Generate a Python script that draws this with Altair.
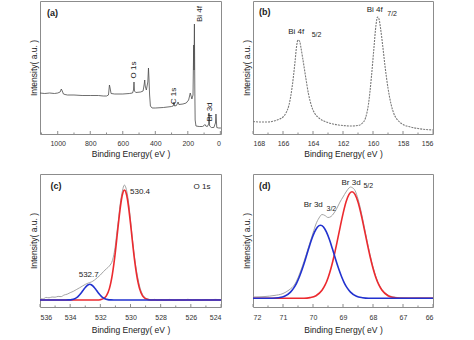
import altair as alt
import pandas as pd

# ---------------- Panel (a): survey spectrum ----------------
a_energy = [1109, 1080, 1050, 1020, 1000, 985, 978, 972, 965, 955, 940, 900, 850, 800, 750, 720, 700,
            688, 682, 678, 672, 650, 600, 560, 540, 534, 531, 528, 520, 490, 475, 468, 465, 462, 455,
            446, 442, 439, 435, 430, 420, 400, 350, 300, 290, 285, 281, 270, 260, 255, 230, 210, 195,
            185, 180, 175, 168, 164, 162, 159.5, 157, 155, 150, 130, 110, 100, 95, 90, 80, 72, 70, 68,
            66, 55, 40, 30, 27, 25, 22, 10, 0, -4]
a_intensity = [41, 40.5, 41, 40.5, 41, 42, 45, 43, 40, 39.5, 39, 39, 38.5, 38.5, 38.5, 38, 38,
               39, 49, 46, 40.5, 40, 40, 40.5, 41, 44, 52, 43, 41.5, 42, 43, 50, 54, 48, 44,
               52, 66, 56, 39, 28, 26, 26, 26.5, 27.5, 28, 32, 28, 28.5, 32, 29.5, 30, 31, 34,
               41, 38, 35, 39, 89, 64, 110, 44, 14, 8, 7.5, 7.5, 8.5, 9.5, 8, 7.5, 10, 21, 16,
               8, 6.5, 6.5, 11, 20, 15, 6.5, 6, 6, 6]
a_labels = ["O 1s", "C 1s", "Bi 4f", "Br 3d"]
a_label_energy = [532.6, 286.6, 124.8, 63.3]
a_label_intensity = [64, 38, 120, 22]

# ---------------- Panel (b): Bi 4f ----------------
b_energy = [168.0, 167.5, 167.0, 166.6, 166.3, 166.0, 165.8, 165.6, 165.4, 165.2, 165.1, 165.0, 164.9,
            164.8, 164.7, 164.5, 164.3, 164.1, 163.9, 163.6, 163.2, 162.8, 162.3, 162.0, 161.5, 161.0,
            160.7, 160.5, 160.3, 160.1, 159.95, 159.8, 159.7, 159.6, 159.5, 159.35, 159.2, 159.0, 158.8,
            158.6, 158.3, 158.0, 157.5, 157.0, 156.5, 156.0]
b_intensity = [12.5, 12, 12, 13, 14.5, 17, 21, 29, 46, 72, 87, 94, 93,
               86, 77, 58, 40, 28, 21, 16, 12.5, 10.5, 9, 8.5, 8, 8.5,
               11, 16, 30, 58, 84, 109, 117, 115, 106, 88, 68, 46, 30,
               20, 13, 9.5, 7, 5.5, 4.5, 4]

# ---------------- Panel (c): O 1s ----------------
c_data_energy = [536.0, 535.8, 535.6, 535.4, 535.2, 535.0, 534.8, 534.6, 534.4, 534.2, 534.0, 533.8,
                 533.6, 533.4, 533.2, 533.0, 532.8, 532.6, 532.4, 532.2, 532.0, 531.8, 531.6, 531.4,
                 531.2, 531.1, 531.0, 530.9, 530.8, 530.7, 530.6, 530.5, 530.45, 530.4, 530.35, 530.3,
                 530.2, 530.1, 530.0, 529.9, 529.8, 529.7, 529.6, 529.5, 529.4, 529.3, 529.2, 529.0,
                 528.8, 528.6, 528.4, 528.2, 528.0, 527.7, 527.4, 527.1, 526.8, 526.5, 526.2, 525.9,
                 525.6, 525.3, 525.0, 524.7, 524.4, 524.0]
c_data_intensity = [8.3, 8.0, 9.6, 9.2, 10.0, 9.8, 10.6, 10.4, 12.0, 12.8, 14.3, 15.6,
                    17.3, 19.0, 20.8, 22.6, 24.0, 25.0, 26.8, 29.3, 32.0, 35.3, 38.2, 41.0,
                    46.5, 52.7, 62.0, 75.0, 87.0, 101.0, 111.0, 118.5, 121.0, 122.0, 121.0, 119.0,
                    112.0, 101.0, 87.0, 72.0, 58.0, 46.0, 36.0, 28.0, 21.0, 16.0, 12.5, 9.0,
                    7.8, 7.2, 7.6, 6.9, 7.4, 7.0, 7.6, 6.8, 7.3, 7.0, 7.7, 7.0,
                    7.4, 6.8, 7.5, 7.1, 7.6, 7.2]
c_red_energy = [536, 533, 532.2, 532.0, 531.8, 531.6, 531.4, 531.3, 531.2, 531.1, 531.0, 530.9, 530.8,
                530.7, 530.6, 530.5, 530.4, 530.3, 530.2, 530.1, 530.0, 529.9, 529.8, 529.7, 529.6,
                529.5, 529.4, 529.2, 529.0, 528.8, 528.6, 524]
c_red_intensity = [7, 7, 7.0, 7.3, 8.3, 11.2, 18.4, 24.6, 32.9, 43.3, 55.7, 69.5, 83.6,
                   96.7, 107.5, 114.6, 117, 114.6, 107.5, 96.7, 83.6, 69.5, 55.7, 43.3, 32.9,
                   24.6, 18.4, 11.2, 8.3, 7.3, 7.0, 7]
c_blue_energy = [536, 534.3, 534.1, 533.9, 533.7, 533.6, 533.5, 533.4, 533.3, 533.2, 533.1, 533.0,
                 532.9, 532.8, 532.7, 532.6, 532.5, 532.4, 532.3, 532.2, 532.1, 532.0, 531.9, 531.8,
                 531.7, 531.5, 531.3, 531.1, 524]
c_blue_intensity = [7, 7.0, 7.1, 7.4, 8.3, 9.1, 10.2, 11.7, 13.5, 15.5, 17.6, 19.6,
                    21.2, 22.3, 22.7, 22.3, 21.2, 19.6, 17.6, 15.5, 13.5, 11.7, 10.2, 9.1,
                    8.3, 7.4, 7.1, 7.0, 7]

# ---------------- Panel (d): Br 3d ----------------
d_data_energy = [72, 71.6, 71.3, 71.0, 70.8, 70.6, 70.4, 70.2, 70.0, 69.9, 69.8, 69.7, 69.6, 69.5,
                 69.4, 69.3, 69.2, 69.1, 69.0, 68.9, 68.8, 68.75, 68.7, 68.6, 68.5, 68.4, 68.3, 68.2,
                 68.1, 68.0, 67.9, 67.8, 67.7, 67.5, 67.3, 67.1, 66.8, 66.5, 66]
d_data_intensity = [10, 10.5, 11.5, 13.5, 17, 23, 37, 55, 74, 83, 89, 92.5, 91.5, 89.5,
                    90.5, 94, 99, 105, 110, 115, 119, 120, 119.5, 116.5, 108, 96, 81.5, 66.5,
                    52.5, 40, 30, 22.5, 17.5, 12, 10, 9.3, 9.0, 9.1, 9.0]
d_red_energy = [72, 70.3, 70.1, 69.9, 69.7, 69.6, 69.5, 69.4, 69.3, 69.2, 69.1, 69.0, 68.9, 68.8, 68.7,
                68.6, 68.5, 68.4, 68.3, 68.2, 68.1, 68.0, 67.9, 67.8, 67.7, 67.5, 67.3, 67.1, 66]
d_red_intensity = [8.7, 8.8, 9.4, 11.3, 16.7, 21.8, 29.1, 38.8, 50.8, 64.6, 79.2, 93.1, 104.9, 112.6, 115.3,
                   112.6, 104.9, 93.1, 79.2, 64.6, 50.8, 38.8, 29.1, 21.8, 16.7, 11.3, 9.4, 8.8, 8.7]
d_blue_energy = [72, 71.35, 71.15, 70.95, 70.75, 70.65, 70.55, 70.45, 70.35, 70.25, 70.15, 70.05, 69.95,
                 69.85, 69.75, 69.65, 69.55, 69.45, 69.35, 69.25, 69.15, 69.05, 68.95, 68.85, 68.75,
                 68.55, 68.35, 68.15, 66]
d_blue_intensity = [8.7, 8.8, 9.3, 10.7, 14.9, 18.6, 23.7, 30.5, 38.7, 48.0, 57.9, 67.2, 74.8,
                    80.0, 81.7, 80.0, 74.8, 67.2, 57.9, 48.0, 38.7, 30.5, 23.7, 18.6, 14.9,
                    10.7, 9.3, 8.8, 8.7]

FONT = "Liberation Sans"
GRAY_FRAME = "#8c8c8c"
RED = "#ec2a2f"
BLUE = "#2232cf"


def df(e, i):
    return pd.DataFrame({"E": e, "I": i})


def make_panel(xdom, xmajor, xminor, w, h, lines, texts, lpad=5, tpad=3):
    xs = alt.Scale(domain=xdom, reverse=True, nice=False, zero=False)
    ys = alt.Scale(domain=[0, 133], nice=False, zero=False)
    xax = alt.Axis(values=xmajor, format="d", title="Binding Energy( eV )",
                   labelPadding=lpad, titlePadding=tpad)
    yax = alt.Axis(labels=False, title="Intensity( a.u. )", titlePadding=2)
    X = alt.X("E:Q", scale=xs, axis=xax)
    Y = alt.Y("I:Q", scale=ys, axis=yax)
    layers = []
    for (data, color, width, dash, interp) in lines:
        mk = dict(color=color, strokeWidth=width, interpolate=interp, clip=True)
        if dash:
            mk["strokeDash"] = dash
        layers.append(alt.Chart(data).mark_line(**mk).encode(x=X, y=Y))
    # inward ticks
    tmaj = pd.DataFrame({"E": xmajor})
    tmin = pd.DataFrame({"E": xminor})
    layers.append(alt.Chart(tmaj).mark_rule(color=GRAY_FRAME, strokeWidth=1).encode(
        x=X, y=alt.value(h), y2=alt.value(h - 3)))
    layers.append(alt.Chart(tmin).mark_rule(color=GRAY_FRAME, strokeWidth=1).encode(
        x=X, y=alt.value(h), y2=alt.value(h - 1.5)))
    for (labels, es, iis, size, weight, angle, align) in texts:
        tdf = pd.DataFrame({"E": es, "I": iis, "t": labels})
        mk = dict(font=FONT, fontSize=size, fontWeight=weight, color="#222",
                  align=align, baseline="middle")
        if angle:
            mk["angle"] = angle
        layers.append(alt.Chart(tdf).mark_text(**mk).encode(x=X, y=Y, text="t:N"))
    return alt.layer(*layers).properties(width=w, height=h)


pa = make_panel(
    [-4, 1109], [1000, 800, 600, 400, 200, 0], [1100, 900, 700, 500, 300, 100], 181, 133,
    [(df(a_energy, a_intensity), "#4a4a4a", 0.8, None, "linear")],
    [(["(a)"], [1066], [121.5], 9, "bold", 0, "left"),
     (a_labels, a_label_energy, a_label_intensity, 8, "normal", 270, "center")])

pb = make_panel(
    [156, 168], [168, 166, 164, 162, 160, 158, 156], [167, 165, 163, 161, 159, 157], 180, 133,
    [(df(b_energy, b_intensity), "#7a7a7a", 1.1, [2, 1], "monotone")],
    [(["(b)"], [167.6], [122], 9, "bold", 0, "left"),
     (["Bi 4f", "Bi 4f"], [165.65, 160.42], [102.3, 124], 8, "normal", 0, "left"),
     (["5/2", "7/2"], [164.09, 159.05], [99, 120], 7, "normal", 0, "left")])

pc = make_panel(
    [524, 536], [536, 534, 532, 530, 528, 526, 524], [535, 533, 531, 529, 527, 525], 181, 133,
    [(df(c_data_energy, c_data_intensity), "#9a9a9a", 0.9, None, "monotone"),
     (df(c_red_energy, c_red_intensity), RED, 1.6, None, "monotone"),
     (df(c_blue_energy, c_blue_intensity), BLUE, 1.6, None, "monotone")],
    [(["(c)"], [535.3], [121], 9, "bold", 0, "left"),
     (["530.4", "O 1s", "532.7"], [529.37, 525.26, 532.77], [115.3, 120, 32], 8, "normal", 0, "center")],
    lpad=6, tpad=5)

pd_ = make_panel(
    [66, 72], [72, 71, 70, 69, 68, 67, 66], [71.5, 70.5, 69.5, 68.5, 67.5, 66.5], 180, 133,
    [(df(d_data_energy, d_data_intensity), "#9a9a9a", 0.9, None, "monotone"),
     (df(d_red_energy, d_red_intensity), RED, 1.6, None, "monotone"),
     (df(d_blue_energy, d_blue_intensity), BLUE, 1.6, None, "monotone")],
    [(["(d)"], [71.8], [121], 9, "bold", 0, "left"),
     (["Br 3d", "Br 3d"], [70.31, 69.05], [101.7, 124.3], 8, "normal", 0, "left"),
     (["3/2", "5/2"], [69.55, 68.32], [98.3, 120.7], 7, "normal", 0, "left")],
    lpad=6, tpad=5)

chart = alt.concat(pa, pb, pc, pd_, columns=2, spacing={"column": 32, "row": 40},
                   bounds="flush").properties(
    padding={"left": 28, "top": 0, "right": 5, "bottom": 5}
).configure_view(
    stroke=GRAY_FRAME, strokeWidth=1
).configure_axis(
    domain=False, ticks=False, grid=False,
    labelFont=FONT, labelFontSize=7, labelColor="#333",
    titleFont=FONT, titleFontSize=8.5, titleFontWeight="normal", titleColor="#222"
)

chart.save("out.html", embed_options={"renderer": "svg", "actions": False})
